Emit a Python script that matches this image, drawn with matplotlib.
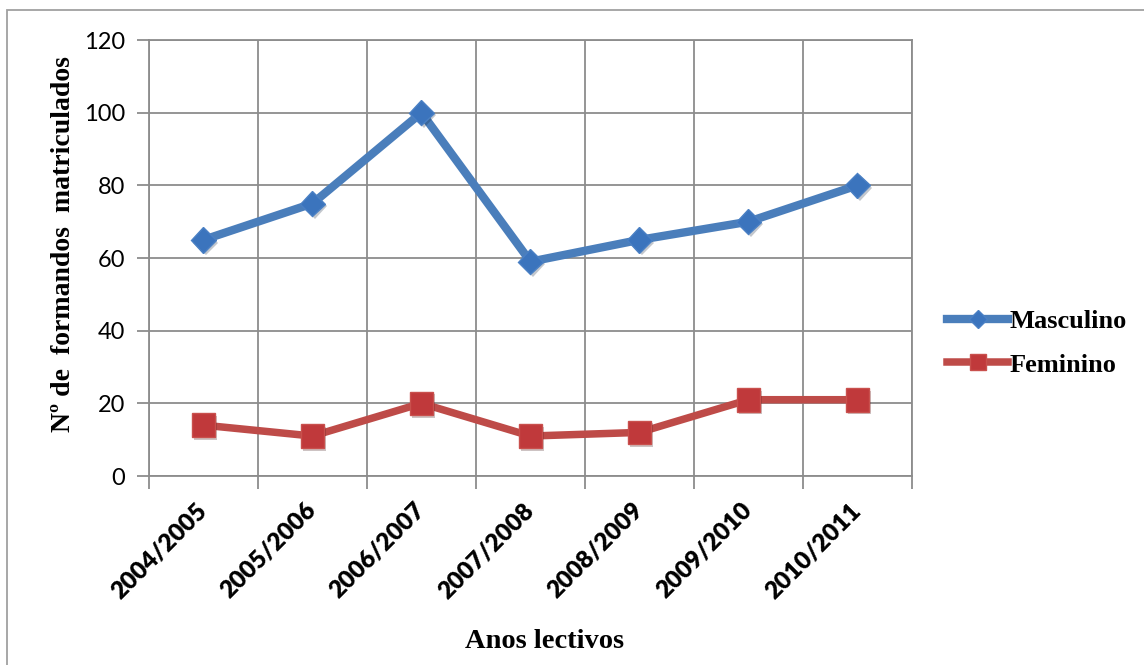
import numpy as np
import matplotlib
matplotlib.use("Agg")
import matplotlib.pyplot as plt
import matplotlib.patheffects as pe
from matplotlib.lines import Line2D
from matplotlib.patches import Rectangle

# ── Data ─────────────────────────────────────────────────────────────────────

anos = ["2004/2005", "2005/2006", "2006/2007", "2007/2008",
        "2008/2009", "2009/2010", "2010/2011"]
masculino = [65, 75, 100, 59, 65, 70, 80]
feminino = [14, 11, 20, 11, 12, 21, 21]

GRID = "#8c8c8c"
BLUE_LINE, BLUE_MARK = "#4a7ebb", "#3b74bd"
RED_LINE, RED_MARK = "#be4b48", "#c0393b"

# ── Figure ───────────────────────────────────────────────────────────────────

fig = plt.figure(figsize=(11.44, 6.65), dpi=100)
ax = fig.add_axes([0.1302, 0.2842, 0.6670, 0.6556])

x = np.arange(len(anos))
shadow = [pe.SimplePatchShadow(offset=(1.5, -2), alpha=0.25), pe.Normal()]

ax.plot(x, masculino, color=BLUE_LINE, lw=6, solid_capstyle="butt", zorder=3)
ax.plot(x, masculino, ls="none", marker="D", ms=13, mfc=BLUE_MARK,
        mec="#4a80c4", mew=1, path_effects=shadow, zorder=4)
ax.plot(x, feminino, color=RED_LINE, lw=5.4, solid_capstyle="butt", zorder=3)
ax.plot(x, feminino, ls="none", marker="s", ms=17, mfc=RED_MARK,
        mec="#c9504d", mew=1, path_effects=shadow, zorder=4)

# category boundaries carry the gridlines, centres carry the labels
ax.set_xlim(-0.5, len(anos) - 0.5)
ax.set_xticks(np.arange(len(anos) + 1) - 0.5)
ax.set_xticklabels([])
ax.set_xticks(x, minor=True)
ax.set_xticklabels(anos, minor=True, rotation=45, ha="right", va="center",
                   rotation_mode="anchor", fontsize=17.5, fontweight="heavy",
                   family="Lato")
ax.tick_params(axis="x", which="minor", length=0, pad=22)
ax.tick_params(axis="x", which="major", length=9, width=1.3, color=GRID)

ax.set_ylim(0, 120)
ax.set_yticks(np.arange(0, 121, 20))
ax.tick_params(axis="y", length=9, width=1.3, color=GRID, pad=8)
for lab in ax.get_yticklabels():
    lab.set_family("Lato")
    lab.set_fontsize(17)

ax.grid(True, color=GRID, lw=1.3)
ax.set_axisbelow(True)
for sp in ax.spines.values():
    sp.set_color(GRID)
    sp.set_linewidth(1.3)

ax.set_ylabel("Nº de  formandos  matriculados", family="Liberation Serif",
              fontweight="bold", fontsize=20)
ax.yaxis.set_label_coords(-0.096, 0.532)
fig.text(0.476, 0.036, "Anos lectivos", family="Liberation Serif",
         fontweight="bold", fontsize=20.5, ha="center", va="center")

handles = [
    Line2D([], [], color=BLUE_LINE, lw=6, marker="D", ms=13, mfc=BLUE_MARK,
           mec="#4a80c4"),
    Line2D([], [], color=RED_LINE, lw=5.4, marker="s", ms=17, mfc=RED_MARK,
           mec="#c9504d"),
]
fig.legend(handles, ["Masculino", "Feminino"], loc="center left",
           bbox_to_anchor=(0.828, 0.484), frameon=False, borderpad=0,
           borderaxespad=0, handlelength=2.3, handletextpad=0.05,
           labelspacing=0.75, markerscale=0.7,
           prop={"family": "Liberation Serif", "weight": "bold", "size": 19})

# outer chart border, running off the right and bottom edges
fig.patches.append(Rectangle((7 / 1144, -0.05), 1.1, 1 - 10 / 665 + 0.05,
                             transform=fig.transFigure, fill=False,
                             edgecolor="#a0a0a0", lw=1.3))

fig.savefig("out.png", dpi=100)
